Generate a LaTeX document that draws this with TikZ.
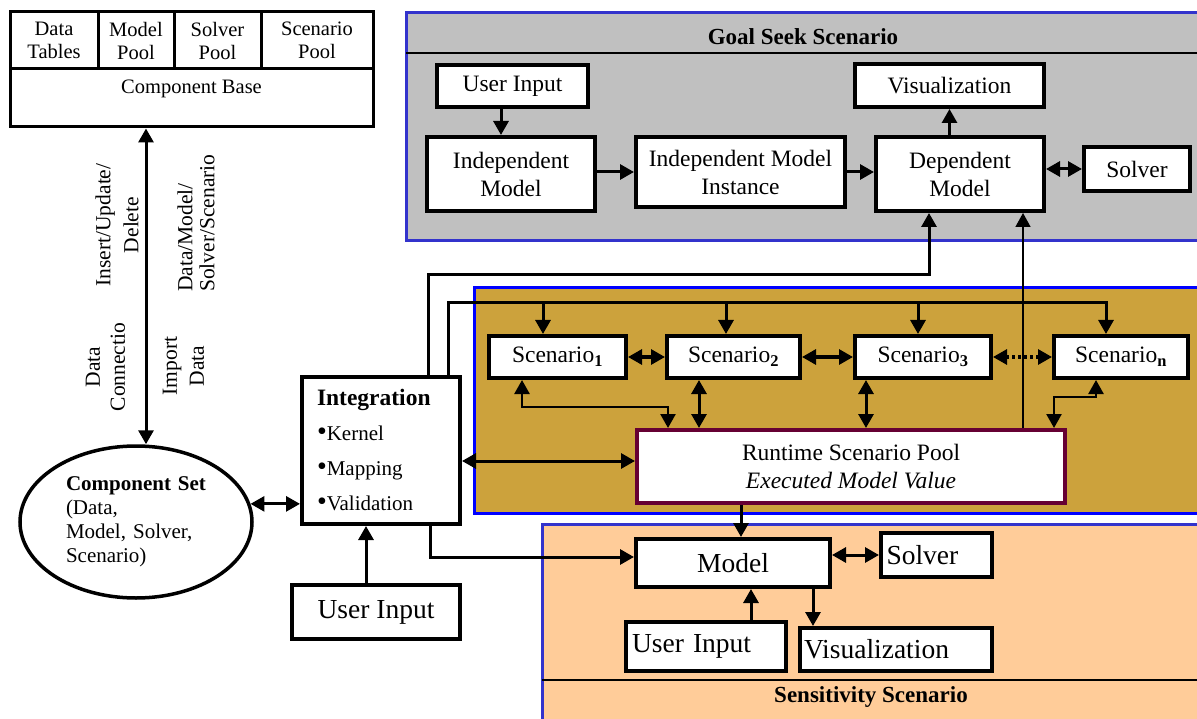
\documentclass[tikz,border=0pt]{standalone}
\usepackage{fontspec}
\setmainfont{Liberation Serif}
\usetikzlibrary{arrows.meta,shapes.geometric}

\definecolor{goalgray}{RGB}{192,192,192}
\definecolor{goalblue}{RGB}{51,51,204}
\definecolor{poolgold}{RGB}{204,162,60}
\definecolor{sensepeach}{RGB}{255,204,153}
\definecolor{poolred}{RGB}{102,0,51}
\newcommand{\bulletmark}{{\fontsize{28}{28}\selectfont\textbullet}}

\begin{document}
\begin{tikzpicture}[x=1pt,y=-1pt,
  >={Triangle[length=14pt,width=15pt]},
  box/.style={draw, line width=4pt, fill=white, inner sep=0pt, align=center, font=\fontsize{23.5}{28}\selectfont},
  bigbox/.style={box, align=left, font=\fontsize{27.5}{32}\selectfont},
  cell/.style={draw, line width=3pt, fill=white, inner sep=0pt, align=center, font=\fontsize{20.5}{23}\selectfont},
  sidelabel/.style={rotate=90, align=center, inner sep=0pt, font=\fontsize{21.5}{25}\selectfont},
  areatitle/.style={font=\fontsize{23}{27}\selectfont\bfseries},
  areaframe/.style={line width=3pt},
  conn/.style={line width=3pt}]
  \useasboundingbox (0,0) rectangle (1197,719);

  % scenario areas
  \draw[areaframe, draw=goalblue, fill=goalgray] (406,13) rectangle (1215,241);
  \draw[line width=2.5pt] (406,53) -- (1215,53);
  \node[areatitle] (goaltitle) at (803,37) {Goal Seek Scenario};
  \draw[areaframe, draw=blue, fill=poolgold] (474,288) rectangle (1215,513);
  \draw[areaframe, draw=goalblue, fill=sensepeach] (542,524) rectangle (1215,735);
  \draw[line width=2.5pt] (542,680) -- (1215,680);
  \node[areatitle] (sensetitle) at (871,697) {Sensitivity Scenario};

  % component base
  \node[cell, minimum width=88pt, minimum height=57pt] (dtab) at (54,40.5) {Data\\Tables};
  \node[cell, minimum width=76pt, minimum height=57pt] (mpool) at (136,40.5) {Model\\Pool};
  \node[cell, minimum width=87pt, minimum height=57pt] (spool) at (217.5,40.5) {Solver\\Pool};
  \node[cell, minimum width=112pt, minimum height=57pt] (scpool) at (317,40.5) {Scenario\\Pool};
  \node[cell, minimum width=363pt, minimum height=58pt] (cbase) at (191.5,98) {Component Base\\~};

  \node[sidelabel, font=\fontsize{21.5}{28}\selectfont] (iud) at (117,225) {Insert/Update/\\Delete};
  \node[sidelabel, align=left, anchor=west, font=\fontsize{21.5}{22}\selectfont] (dmss) at (196,292) {Data/Model/\\Solver/Scenario};
  \node[sidelabel] (dcon) at (105.5,367) {Data\\Connectio};
  \node[sidelabel, font=\fontsize{21.5}{27}\selectfont] (imp) at (183.5,366) {Import\\Data};

  \node[ellipse, draw, line width=3.5pt, minimum width=232pt, minimum height=152pt, inner sep=0pt,
        text width=140pt, align=left, font=\fontsize{21}{24}\selectfont] (cset) at (136,522)
        {\mbox{\textbf{Component Set}}\\(Data,\\Model, Solver,\\Scenario)};

  \node[box, minimum width=158pt, minimum height=147pt, text width=128pt, align=left,
        font=\fontsize{21}{35}\selectfont] (integ) at (381,450.5)
        {{\fontsize{23.5}{35}\selectfont\bfseries Integration}\\\bulletmark Kernel\\\bulletmark Mapping\\\bulletmark Validation};
  \node[box, font=\fontsize{27.5}{32}\selectfont, minimum width=168pt, minimum height=54pt] (iuser) at (376,612) {User Input};

  % goal seek
  \node[box, minimum width=151pt, minimum height=42pt] (guser) at (512.5,86) {User Input};
  \node[box, minimum width=168pt, minimum height=74pt] (gindep) at (511,174) {Independent\\Model};
  \node[box, minimum width=209pt, minimum height=70pt] (ginst) at (740.5,172) {Independent Model\\Instance};
  \node[box, minimum width=168pt, minimum height=74pt] (gdep) at (960,174) {Dependent\\Model};
  \node[box, minimum width=189pt, minimum height=43pt] (gvis) at (949.5,85.5) {Visualization};
  \node[box, minimum width=106pt, minimum height=44pt] (gsolver) at (1137,169) {Solver};

  % scenario pool
  \node[box, minimum width=137pt, minimum height=42pt] (scen1) at (557.5,357) {Scenario\textsubscript{\textbf{1}}};
  \node[box, minimum width=133pt, minimum height=42pt] (scen2) at (733.5,357) {Scenario\textsubscript{\textbf{2}}};
  \node[box, minimum width=136pt, minimum height=42pt] (scen3) at (923,357) {Scenario\textsubscript{\textbf{3}}};
  \node[box, minimum width=134pt, minimum height=42pt] (scenn) at (1121,357) {Scenario\textsubscript{\textbf{n}}};
  \node[box, draw=poolred, minimum width=428pt, minimum height=73pt] (rsp) at (851,466.5)
        {Runtime Scenario Pool\\\textit{Executed Model Value}};

  % sensitivity
  \node[box, font=\fontsize{27.5}{32}\selectfont, minimum width=194pt, minimum height=48pt] (model) at (733,563) {Model};
  \node[bigbox, minimum width=111pt, minimum height=44pt, text width=100pt] (msolver) at (936.5,555) {Solver};
  \node[bigbox, minimum width=160pt, minimum height=49pt, text width=148pt] (muser) at (706,646.5) {User Input};
  \node[bigbox, minimum width=192pt, minimum height=43pt, text width=184pt] (mvis) at (896,649.5) {Visualization};

  % connectors
  \draw[conn,<->] ([xshift=-45.5pt]cbase.south) -- ([xshift=-45.5pt]cbase.south |- cset.north);
  \draw[conn,<->] (cset.9.6) -- (cset.9.6 -| integ.west);
  \draw[conn,->] ([xshift=-10pt]iuser.north) -- ([xshift=-10pt]iuser.north |- integ.south);

  \draw[conn,->] ([xshift=-11.5pt]guser.south) -- ([xshift=-11.5pt]guser.south |- gindep.north);
  \draw[conn,->] (ginst.west -| gindep.east) -- (ginst.west);
  \draw[conn,->] (ginst.east) -- (ginst.east -| gdep.west);
  \draw[conn,->] (gvis.south |- gdep.north) -- (gvis.south);
  \draw[conn,<->] (gsolver.west -| gdep.east) -- (gsolver.west);

  \draw[conn,->] ([xshift=47pt]integ.north) |- ([xshift=-31pt,yshift=-62pt]gdep.south) -- ([xshift=-31pt]gdep.south);
  \draw[conn,->] ([xshift=67pt]integ.north) |- ([xshift=-15pt,yshift=31pt]scenn.north) -- ([xshift=-15pt]scenn.north);
  \foreach \s/\d in {scen1/-14.5,scen2/-7.5,scen3/-5}
    \draw[conn,->] ([xshift=\d pt,yshift=31pt]\s.north) -- ([xshift=\d pt]\s.north);

  \draw[conn,<->] (scen1.east) -- (scen2.west);
  \draw[conn,<->] (scen2.east) -- (scen3.west);
  \draw[conn,<->,dash pattern=on 3pt off 3pt] (scen3.east) -- (scenn.west);

  \draw[line width=2.5pt,<->] ([xshift=-35.5pt]scen1.south) |- ([xshift=-183pt,yshift=21pt]rsp.north) -- ([xshift=-183pt]rsp.north);
  \draw[conn,<->] ([xshift=-34.5pt]scen2.south) -- ([xshift=-34.5pt]scen2.south |- rsp.north);
  \draw[conn,<->] ([xshift=-57pt]scen3.south) -- ([xshift=-57pt]scen3.south |- rsp.north);
  \draw[line width=2.5pt,<->] ([xshift=-25pt]scenn.south) |- ([xshift=203pt,yshift=31pt]rsp.north) -- ([xshift=203pt]rsp.north);
  \draw[line width=1.5pt,->] ([xshift=172pt]rsp.north) -- ([xshift=63pt]gdep.south);
  \draw[conn,<->] ([yshift=5.5pt]rsp.west) -- ([yshift=5.5pt]rsp.west -| integ.east);

  \draw[conn,->] ([xshift=-110pt]rsp.south) -- ([xshift=-110pt]rsp.south |- model.north);
  \draw[conn,->] ([xshift=49pt]integ.south) |- ([yshift=6pt]model.west);
  \draw[conn,<->] (model.east |- msolver.west) -- (msolver.west);
  \draw[conn,->] ([xshift=45pt]muser.north) -- ([xshift=45pt]muser.north |- model.south);
  \draw[conn,->] ([xshift=80pt]model.south) -- ([xshift=80pt]model.south |- mvis.north);
\end{tikzpicture}
\end{document}
